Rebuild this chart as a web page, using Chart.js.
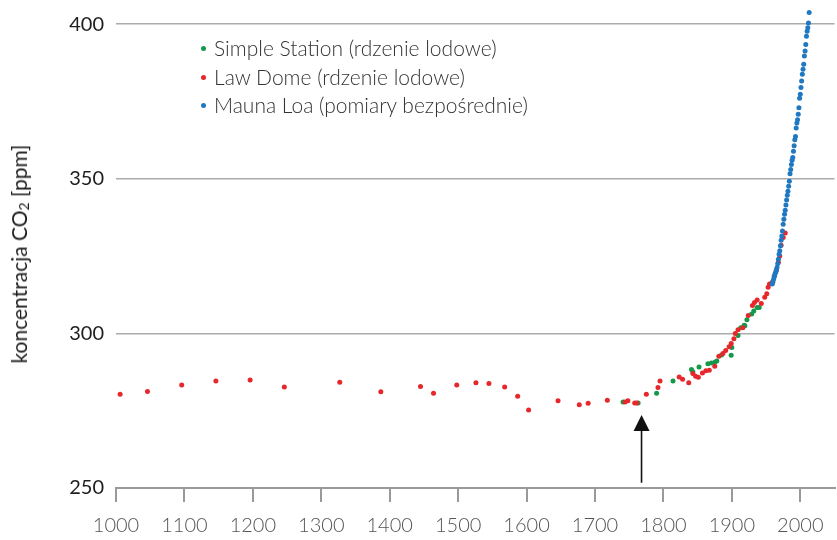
<!DOCTYPE html>
<html><head><meta charset="utf-8">
<script src="https://cdn.jsdelivr.net/npm/chart.js@4/dist/chart.umd.min.js"></script>
<style>
html,body{margin:0;padding:0;background:#fff;}
#wrap{position:relative;width:837px;height:540px;}
#legend{position:absolute;left:201px;top:34px;font-family:Lato,"Open Sans",sans-serif;font-weight:300;font-size:21px;color:#333;line-height:28.5px;}
#legend div{white-space:nowrap;}
#legend span.d{display:inline-block;width:5px;height:5px;border-radius:50%;margin-right:8px;vertical-align:5px;}
#ytitle{position:absolute;left:19px;top:254px;transform:translate(-50%,-50%) rotate(-90deg);font-family:Lato,"Open Sans",sans-serif;font-size:21px;color:#1e1e1e;white-space:nowrap;}
</style></head>
<body><div id="wrap"><canvas id="c" width="837" height="540"></canvas>
<div id="legend"></div>
<div id="ytitle">koncentracja CO<sub style="font-size:14px;vertical-align:-2px">2</sub> [ppm]</div>
</div>
<script>
const seriesNames = ["Simple Station (rdzenie lodowe)", "Law Dome (rdzenie lodowe)", "Mauna Loa (pomiary bezpośrednie)"];
const seriesColors = ["#15984a", "#e6272b", "#1f78c2"];

// Siple Station (green) [year, ppm]
const sipleYears = [1741,1763,1790,1814,1841,1843,1852,1865,1870,1875,1878,1885,1899,1900,1909,1913,1918,1919,1922,1929,1932,1937,1940];
const siplePpm   = [277.8,277.5,280.6,284.6,288.3,287.6,289.1,290.2,290.4,290.7,291.1,293.0,292.9,295.4,299.3,301.8,302.6,302.5,304.4,306.3,307.2,308.4,308.4];

// Law Dome (red)
const lawYears = [1006,1046,1096,1146,1196,1246,1327,1387,1445,1464,1498,1526,1545,1568,1587,1603,1646,1677,1690,1718,1744,1748,1758,1761,1775,1792,1795,1823,1828,1837,1843,1847,1851,1857,1862,1867,1875,1881,1887,1891,1896,1899,1903,1905,1909,1916,1924,1930,1933,1937,1943,1948,1951,1953,1955,1959,1962,1965,1968,1970,1972,1975,1978];
const lawPpm   = [280.3,281.2,283.3,284.6,284.9,282.7,284.2,281.1,282.8,280.6,283.3,284.0,283.8,282.7,279.7,275.2,278.2,276.9,277.4,278.4,277.8,278.2,277.5,277.5,280.3,282.5,284.6,285.9,285.2,284.0,287.0,286.1,285.8,287.2,287.9,288.1,289.4,292.6,293.5,294.5,295.7,296.7,298.3,300.0,301.2,301.8,305.8,309.0,310.0,310.8,309.7,311.7,312.8,314.9,316.0,316.5,318.5,320.3,323.0,325.0,328.5,331.0,332.5];

// Mauna Loa (blue), years 1959..2013
const maunaStartYear = 1959;
const maunaPpm = [316.0,316.6,317.5,318.4,319.2,319.8,320.5,321.3,322.5,324.0,325.6,326.7,328.3,330.1,331.5,333.1,335.3,336.9,338.5,339.8,341.5,343.1,344.7,346.0,347.6,349.2,351.6,353.0,354.6,356.0,356.9,358.9,360.7,362.6,363.7,366.4,368.0,369.1,370.9,373.0,376.0,377.3,379.5,381.6,383.8,385.4,387.0,389.7,391.3,393.4,396.1,397.7,398.8,400.4,403.8];

const xTicks = [1000,1100,1200,1300,1400,1500,1600,1700,1800,1900,2000];
const yTicks = [250,300,350,400];
const arrowYear = 1768, arrowFrom = 251.7, arrowTip = 273.6;

const toPts = (xs, ys) => xs.map((x,i)=>({x:x, y:ys[i]}));
const maunaPts = maunaPpm.map((v,i)=>({x:maunaStartYear+i, y:v}));

const arrowPlugin = {
  id:'arrow',
  afterDatasetsDraw(chart){
    const {ctx, scales:{x,y}} = chart;
    const px = x.getPixelForValue(arrowYear);
    const y0 = y.getPixelForValue(arrowFrom), y1 = y.getPixelForValue(arrowTip);
    ctx.save();
    ctx.strokeStyle = '#111'; ctx.fillStyle = '#111'; ctx.lineWidth = 1.6;
    ctx.beginPath(); ctx.moveTo(px, y0); ctx.lineTo(px, y1+12); ctx.stroke();
    ctx.beginPath(); ctx.moveTo(px, y1); ctx.lineTo(px-8, y1+16); ctx.lineTo(px+8, y1+16); ctx.closePath(); ctx.fill();
    ctx.restore();
  }
};

const ds = (label, data, color) => ({label, data, showLine:false, pointRadius:2.5, pointHoverRadius:2.5, borderWidth:0, backgroundColor:color, borderColor:color});

new Chart(document.getElementById('c'), {
  type:'scatter',
  data:{datasets:[
    ds(seriesNames[2], maunaPts, seriesColors[2]),
    ds(seriesNames[1], toPts(lawYears, lawPpm), seriesColors[1]),
    ds(seriesNames[0], toPts(sipleYears, siplePpm), seriesColors[0])
  ]},
  options:{
    responsive:false, animation:false, events:[],
    layout:{padding:0},
    plugins:{legend:{display:false}, tooltip:{enabled:false}},
    scales:{
      x:{type:'linear', min:1000, max:2050,
        afterBuildTicks(a){ a.ticks = xTicks.map(v=>({value:v})); },
        afterFit(a){ a.height = 52; a.paddingLeft = 0; a.paddingRight = 0; },
        grid:{drawOnChartArea:false, drawTicks:true, tickLength:14, tickColor:'#9a9a9a', lineWidth:2},
        border:{color:'#9a9a9a', width:2},
        ticks:{font:{family:'Lato', size:20, weight:300}, color:'#555', padding:12, maxRotation:0, callback:(v)=>String(v)}
      },
      y:{type:'linear', min:250, max:407,
        afterBuildTicks(a){ a.ticks = yTicks.map(v=>({value:v})); },
        afterFit(a){ a.width = 116; a.paddingTop = 0; a.paddingBottom = 0; },
        grid:{drawTicks:false, color:'#ababab', lineWidth:1.5},
        border:{display:false},
        ticks:{font:{family:'Lato', size:20}, color:'#1e1e1e', padding:12, callback:(v)=>String(v)}
      }
    }
  },
  plugins:[arrowPlugin]
});

const lg = document.getElementById('legend');
seriesNames.forEach((n,i)=>{
  const d = document.createElement('div');
  d.innerHTML = '<span class="d" style="background:'+seriesColors[i]+'"></span>'+n;
  lg.appendChild(d);
});
</script></body></html>
